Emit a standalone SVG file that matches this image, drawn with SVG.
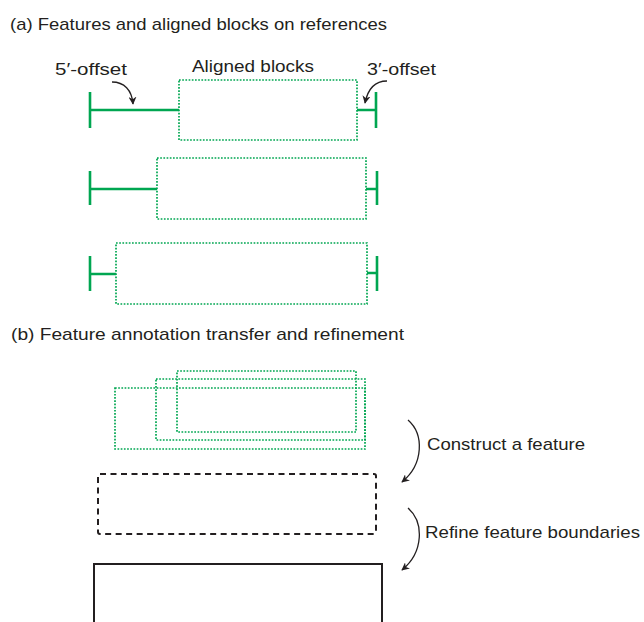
<svg xmlns="http://www.w3.org/2000/svg" width="644" height="622" viewBox="0 0 644 622">
  <defs>
    <style>
      text { font-family: "Liberation Sans", Arial, sans-serif; font-size: 17px; fill: #231f20; }
      .block { fill: none; stroke: #00a651; stroke-width: 1.7; stroke-dasharray: 1.7 1.5; }
      .offset { fill: none; stroke: #00a651; stroke-width: 2.6; }
      .curve { fill: none; stroke: #231f20; stroke-width: 1.3; }
      .dashed { fill: none; stroke: #231f20; stroke-width: 2; stroke-dasharray: 6 4.5; }
      .solid { fill: none; stroke: #231f20; stroke-width: 2; }
    </style>
    <marker id="head" viewBox="0 0 10 10" refX="9" refY="5" markerWidth="8" markerHeight="8" markerUnits="userSpaceOnUse" orient="auto">
      <path d="M0,0 L10,5 L0,10 L3,5 Z" fill="#231f20"/>
    </marker>
  </defs>
  <rect width="644" height="622" fill="#ffffff"/>

  <!-- section titles -->
  <text x="10" y="30" textLength="377" lengthAdjust="spacingAndGlyphs">(a) Features and aligned blocks on references</text>
  <text x="11" y="340" textLength="393" lengthAdjust="spacingAndGlyphs">(b) Feature annotation transfer and refinement</text>

  <!-- (a) reference rows: offsets and aligned blocks -->
  <g id="row1">
    <path class="offset" d="M90,92 V128 M90,110 H179 M357,110 H376 M376,92 V128"/>
    <rect class="block" x="179" y="80" width="178" height="60"/>
  </g>
  <g id="row2">
    <path class="offset" d="M90,171 V205 M90,189 H157 M366,189 H377 M377,171 V205"/>
    <rect class="block" x="157" y="158" width="209" height="61"/>
  </g>
  <g id="row3">
    <path class="offset" d="M90,256 V291 M90,274 H116 M367,273 H377 M377,256 V291"/>
    <rect class="block" x="116" y="243" width="251" height="61"/>
  </g>

  <g id="labels-a">
    <text x="55" y="75" textLength="72" lengthAdjust="spacingAndGlyphs">5′-offset</text>
    <text x="192" y="72" textLength="122" lengthAdjust="spacingAndGlyphs">Aligned blocks</text>
    <text x="367" y="75" textLength="69" lengthAdjust="spacingAndGlyphs">3′-offset</text>
  </g>

  <!-- (b) overlapping projected blocks -->
  <g id="projected-blocks">
    <rect class="block" x="115" y="388" width="250" height="61"/>
    <rect class="block" x="156" y="379" width="209" height="61"/>
    <rect class="block" x="177" y="371" width="179" height="61"/>
  </g>

  <g id="constructed-feature">
    <rect class="dashed" x="98" y="474" width="278" height="60" rx="2"/>
  </g>

  <g id="refined-feature">
    <path class="solid" d="M94,624 V564 H382 V624"/>
  </g>

  <g id="labels-b">
    <text x="427" y="450" textLength="158" lengthAdjust="spacingAndGlyphs">Construct a feature</text>
    <text x="425" y="538" textLength="215" lengthAdjust="spacingAndGlyphs">Refine feature boundaries</text>
  </g>

  <!-- connectors -->
  <g id="connectors">
    <path class="curve" marker-end="url(#head)" d="M112,82 C124,82 132,90 133,104"/>
    <path class="curve" marker-end="url(#head)" d="M387,81 C376,81 368,88 365,103"/>
    <path class="curve" marker-end="url(#head)" d="M408,420 C424,434 424,464 402,482"/>
    <path class="curve" marker-end="url(#head)" d="M408,508 C424,522 424,552 402,570"/>
  </g>
</svg>
